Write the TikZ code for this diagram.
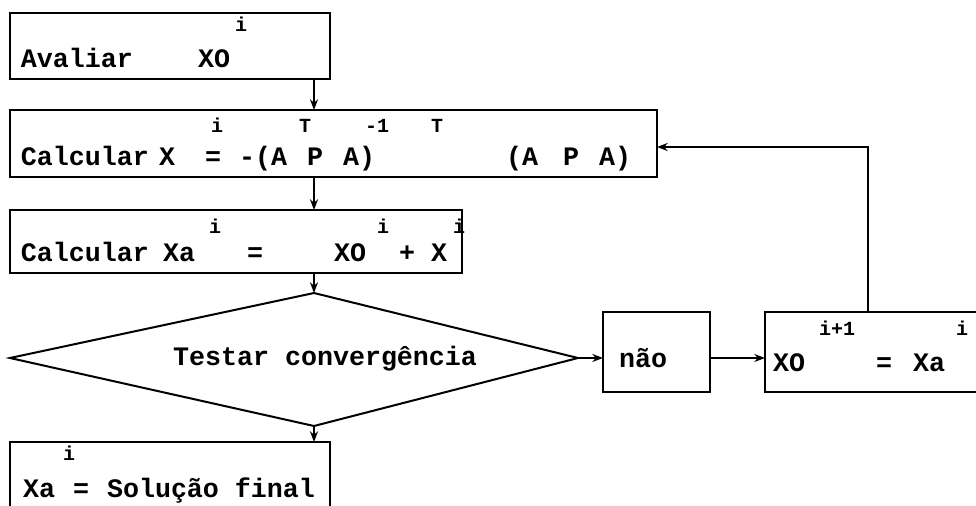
\documentclass[tikz,border=0pt]{standalone}
\usepackage{fontspec}
\setmonofont{Liberation Mono}
\usetikzlibrary{arrows.meta}
\begin{document}
\begin{tikzpicture}[x=0.75pt,y=-0.75pt,
  line width=1.5pt,
  box/.style={draw, rectangle, anchor=north west, inner sep=0pt, outer sep=0pt},
  txt/.style={anchor=base west, inner sep=0pt, font=\ttfamily\bfseries\fontsize{20}{20}\selectfont},
  sup/.style={anchor=base west, inner sep=0pt, font=\ttfamily\bfseries\fontsize{15}{15}\selectfont},
  arr/.style={-{Stealth[length=8pt,width=6pt]}}]
\useasboundingbox (0,0) rectangle (976,506);
\clip (0,0) rectangle (976,506);
% boxes
\node[box, minimum width=240pt, minimum height=49.5pt] (b1) at (10,13) {};
\node[box, minimum width=485.25pt, minimum height=50.25pt] (b2) at (10,110) {};
\node[box, minimum width=339pt, minimum height=47.25pt] (b3) at (10,210) {};
\node[box, minimum width=80.25pt, minimum height=60pt] (nao) at (603,312) {};
\node[box, minimum width=177.75pt, minimum height=60pt] (rb) at (765,312) {};
\node[box, minimum width=240pt, minimum height=75pt] (fin) at (10,442) {};
% diamond
\coordinate (dtop) at (314,293);
\coordinate (dright) at (578,358);
\coordinate (dbot) at (314,426);
\coordinate (dleft) at (10,358);
\draw (dtop) -- (dright) -- (dbot) -- (dleft) -- cycle;
% texts box1
\node[txt] (t1a) at (20,68) {Avaliar};
\node[txt] (t1b) at (197,68) {XO};
\node[sup] (s1a) at (234,32) {i};
% texts box2
\node[txt] (t2a) at (20,166) {Calcular};
\node[txt] (t2b) at (158,166) {X};
\node[txt] (t2c) at (204,166) {=};
\node[txt] (t2d) at (238,166) {-(A};
\node[txt] (t2e) at (306,166) {P};
\node[txt] (t2f) at (342,166) {A)};
\node[txt] (t2g) at (505,166) {(A};
\node[txt] (t2h) at (562,166) {P};
\node[txt] (t2i) at (598,166) {A)};
\node[sup] (s2a) at (210,133) {i};
\node[sup] (s2b) at (298,133) {T};
\node[sup] (s2c) at (364,133) {-1};
\node[sup] (s2d) at (430,133) {T};
% texts box3
\node[txt] (t3a) at (20,262) {Calcular};
\node[txt] (t3b) at (162,262) {Xa};
\node[txt] (t3c) at (246,262) {=};
\node[txt] (t3d) at (333,262) {XO};
\node[txt] (t3e) at (398,262) {+};
\node[txt] (t3f) at (430,262) {X};
\node[sup] (s3a) at (208,234) {i};
\node[sup] (s3b) at (376,234) {i};
\node[sup] (s3c) at (452,234) {i};
% diamond text
\node[txt] (td) at (172,366) {Testar convergência};
% nao text
\node[txt] (tn) at (618,368) {não};
% right box texts
\node[txt] (tra) at (772,372) {XO};
\node[txt] (trb) at (875,372) {=};
\node[txt] (trc) at (912,372) {Xa};
\node[sup] (sra) at (818,336) {i+1};
\node[sup] (srb) at (955,336) {i};
% final box texts
\node[txt] (tfa) at (22,497) {Xa};
\node[txt] (tfb) at (72,497) {=};
\node[txt] (tfc) at (106,497) {Solução final};
\node[sup] (sfa) at (62,460) {i};
% connectors
\coordinate (col) at (314,0);
\coordinate (fb) at (868,147);
\draw[arr] (col |- b1.south) -- (col |- b2.north);
\draw[arr] (col |- b2.south) -- (col |- b3.north);
\draw[arr] (col |- b3.south) -- (dtop);
\draw[arr] (dbot) -- (col |- fin.north);
\draw[arr] (dright) -- (dright -| nao.west);
\draw[arr] (nao.east |- dright) -- (rb.west |- dright);
\draw[arr] (fb |- rb.north) -- (fb) -- (b2.east |- fb);
\end{tikzpicture}
\end{document}
